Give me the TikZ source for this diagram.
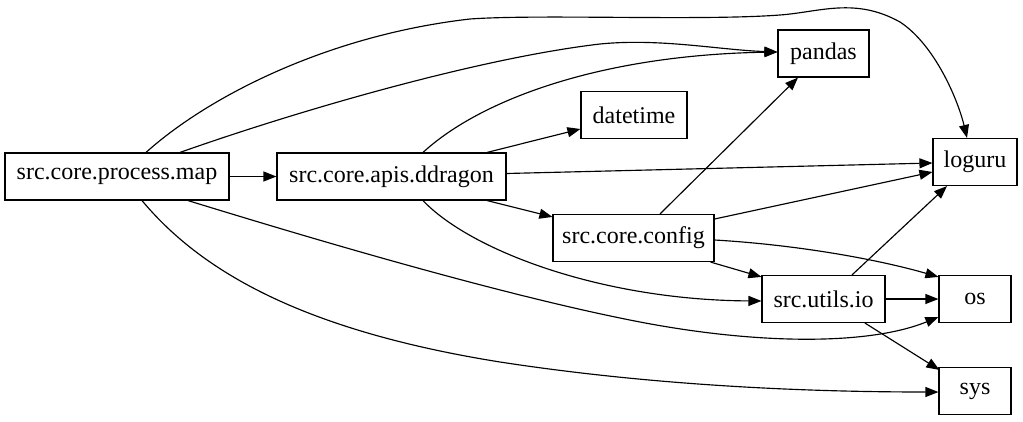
\documentclass[tikz,border=0pt]{standalone}
\usepackage{fontspec}
\setmainfont{Liberation Serif}
\usetikzlibrary{arrows.meta,calc}
\begin{document}
\begin{tikzpicture}[x=1pt,y=-1pt,
  box/.style={draw,line width=1.15pt,inner xsep=0pt,inner ysep=0pt,minimum height=47pt,font=\fontsize{24}{28}\selectfont},
  edge/.style={line width=1.15pt,-{Triangle[length=13pt,width=10pt]}}]
\useasboundingbox (0,0) rectangle (1023,421);
\node[box,minimum width=224pt] (map) at (117,176.5) {src.core.process.map};
\node[box,minimum width=229pt] (ddragon) at (391.5,176.5) {src.core.apis.ddragon};
\node[box,minimum width=91pt] (pandas) at (823.5,53.5) {pandas};
\node[box,minimum width=106pt] (datetime) at (634,115) {datetime};
\node[box,minimum width=84pt] (loguru) at (975,162) {loguru};
\node[box,minimum width=161pt] (config) at (633.5,238) {src.core.config};
\node[box,minimum width=123pt] (io) at (823.5,299) {src.utils.io};
\node[box,minimum width=72pt] (os) at (975,299) {os};
\node[box,minimum width=72pt] (sys) at (975,391) {sys};

\draw[edge] (map.east) -- (ddragon.west);
\draw[edge] ($(map.north)+(29,0)$) .. controls (210,95) and (330,35) .. (470,19)
  .. controls (540,14) and (700,21) .. (780,15)
  .. controls (820,12) and (855,-3) .. (900,22)
  .. controls (935,45) and (958,100) .. ($(loguru.north)+(-8,0)$);
\draw[edge] ($(map.north)+(63,0)$) .. controls (300,110) and (480,58) .. (600,44)
  .. controls (660,38) and (720,50) .. ($(pandas.west)+(0,-1.5)$);
\draw[edge] ($(ddragon.north)+(31.5,0)$) .. controls (480,100) and (600,55) .. ($(pandas.west)+(0,-1.5)$);
\draw[edge] ($(ddragon.north)+(95.5,0)$) -- ($(datetime.west)+(0,14)$);
\draw[edge] ($(ddragon.east)+(0,-3)$) -- ($(loguru.west)+(0,1)$);
\draw[edge] ($(ddragon.south)+(95.5,0)$) -- ($(config.north west)+(0,3)$);
\draw[edge] ($(ddragon.south)+(31.5,0)$) .. controls (470,250) and (600,300) .. ($(io.west)+(0,2)$);
\draw[edge] ($(map.south)+(71,0)$) .. controls (300,235) and (500,295) .. (640,322)
  .. controls (760,345) and (870,345) .. ($(os.west)+(0,18)$);
\draw[edge] ($(map.south)+(25,0)$) .. controls (200,270) and (300,330) .. (500,362)
  .. controls (650,385) and (800,392) .. ($(sys.west)+(0,1)$);
\draw[edge] ($(config.north)+(26.5,0)$) -- ($(pandas.south)+(-25.5,0)$);
\draw[edge] ($(config.east)+(0,-19)$) -- ($(loguru.west)+(0,10)$);
\draw[edge] ($(config.east)+(0,2)$) .. controls (800,245) and (880,260) .. ($(os.north west)+(0,2)$);
\draw[edge] ($(config.south east)+(-4,0)$) -- ($(io.north west)+(0,2)$);
\draw[edge] ($(io.north)+(28.5,0)$) -- ($(loguru.south)+(-28,0)$);
\draw[edge] (io.east) -- (os.west);
\draw[edge] ($(io.south)+(41.5,0)$) -- ($(sys.north west)+(1,3)$);
\end{tikzpicture}
\end{document}
